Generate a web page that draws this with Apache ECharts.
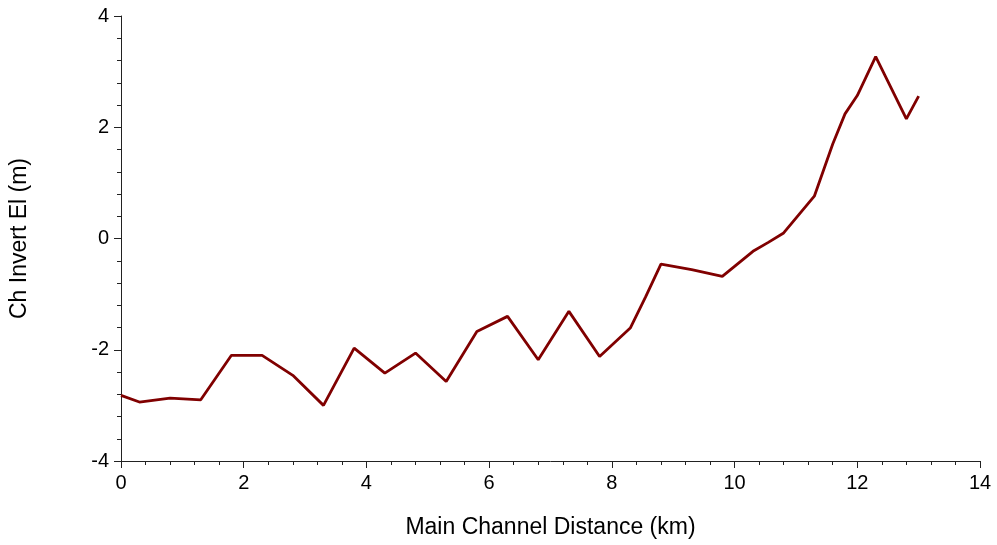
<!DOCTYPE html>
<html>
<head>
<meta charset="utf-8">
<script src="https://cdn.jsdelivr.net/npm/echarts@6/dist/echarts.min.js"></script>
<style>
  html, body { margin: 0; padding: 0; background: #fff; }
  #chart { width: 997px; height: 545px; }
</style>
</head>
<body>
<div id="chart"></div>
<script>
// Main channel distance (km) and channel invert elevation (m)
const distanceKm = [0, 0.3, 0.8, 1.3, 1.8, 2.3, 2.8, 3.3, 3.8, 4.3, 4.8, 5.3, 5.8, 6.3, 6.8, 7.3, 7.8, 8.3, 8.55, 8.8, 9.3, 9.8, 10.3, 10.55, 10.8, 11.3, 11.6, 11.8, 12.0, 12.3, 12.8, 13.0];
const invertEl = [-2.82, -2.94, -2.87, -2.90, -2.10, -2.10, -2.46, -3.00, -1.97, -2.42, -2.06, -2.57, -1.67, -1.40, -2.18, -1.31, -2.12, -1.61, -1.05, -0.46, -0.56, -0.68, -0.23, -0.07, 0.10, 0.76, 1.70, 2.24, 2.57, 3.27, 2.15, 2.56];

const xAxisName = 'Main Channel Distance (km)';
const yAxisName = 'Ch Invert El (m)';

const chart = echarts.init(document.getElementById('chart'));

const fontFamily = '"Liberation Sans", Arial, sans-serif';
const axisColor = '#222';

const commonAxis = {
    axisLine: { show: true, onZero: false, lineStyle: { color: axisColor, width: 1 } },
    axisTick: { show: true, inside: false, length: 7, lineStyle: { color: axisColor } },
    minorTick: { show: true, splitNumber: 5, length: 4, lineStyle: { color: axisColor } },
    splitLine: { show: false },
    minorSplitLine: { show: false },
    axisLabel: { color: '#000', fontSize: 20, fontFamily: fontFamily },
    nameTextStyle: { color: '#000', fontSize: 23, fontFamily: fontFamily }
};

chart.setOption({
    animation: false,
    backgroundColor: '#fff',
    grid: { left: 121, top: 16, right: 17, bottom: 84, containLabel: false },
    xAxis: Object.assign({}, commonAxis, {
        type: 'value',
        min: 0,
        max: 14,
        interval: 2,
        name: xAxisName,
        nameLocation: 'middle',
        nameGap: 55,
        axisLabel: Object.assign({}, commonAxis.axisLabel, { margin: 12 })
    }),
    yAxis: Object.assign({}, commonAxis, {
        type: 'value',
        min: -4,
        max: 4,
        interval: 2,
        name: yAxisName,
        nameLocation: 'middle',
        nameGap: 90,
        axisLabel: Object.assign({}, commonAxis.axisLabel, { margin: 12 })
    }),
    series: [
        {
            type: 'line',
            data: distanceKm.map((d, i) => [d, invertEl[i]]),
            showSymbol: false,
            lineStyle: { color: '#800000', width: 2.8 },
            itemStyle: { color: '#800000' }
        }
    ]
});

window.addEventListener('resize', function () {
    chart.resize();
});
</script>
</body>
</html>
